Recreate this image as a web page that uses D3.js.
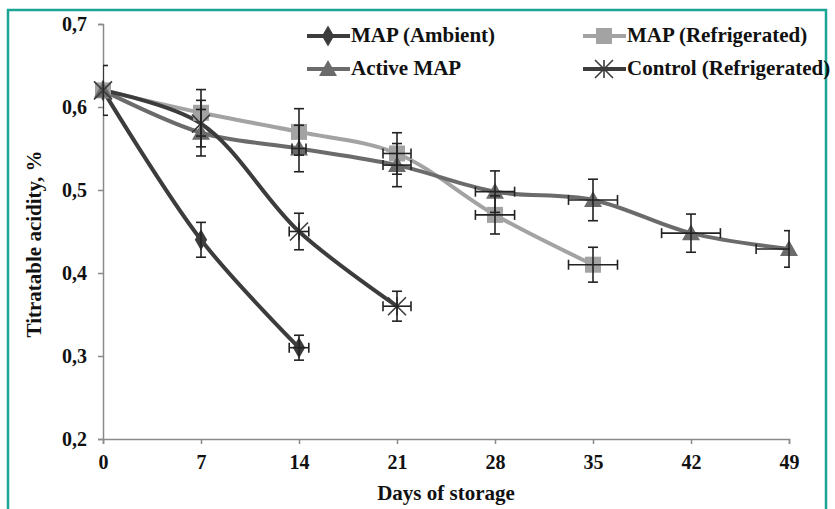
<!DOCTYPE html>
<html>
<head>
<meta charset="utf-8">
<script src="https://cdn.jsdelivr.net/npm/d3@7"></script>
<style>
  body { margin: 0; background: #fff; }
</style>
</head>
<body>
<div id="chart"></div>
<script>
// days of storage
var days = [0, 7, 14, 21, 28, 35, 42, 49];
var yTicks = [0.2, 0.3, 0.4, 0.5, 0.6, 0.7];

// titratable acidity, %
var ambient = [0.62, 0.44, 0.31];
var ambientErr = [0.03, 0.021, 0.015];
var ambientXErr = [0, 0, 0.7];

var refrigerated = [0.62, 0.593, 0.57, 0.544, 0.47, 0.41];
var refrigeratedErr = [0, 0.028, 0.028, 0.025, 0.023, 0.021];
var refrigeratedXErr = [0, 0, 0, 1.0, 1.4, 1.75];

var active = [0.62, 0.569, 0.55, 0.53, 0.498, 0.488, 0.448, 0.429];
var activeErr = [0, 0.028, 0.028, 0.026, 0.025, 0.025, 0.023, 0.022];
var activeXErr = [0, 0, 0.5, 1.0, 1.4, 1.75, 2.1, 2.35];

var control = [0.62, 0.58, 0.45, 0.36];
var controlErr = [0, 0.028, 0.022, 0.018];
var controlXErr = [0, 0, 0.7, 1.0];

var width = 835, height = 509;
var margin = {left: 103, right: 46, top: 24, bottom: 70};
var FONT = "Liberation Serif";

var svg = d3.select("#chart").append("svg")
  .attr("width", width)
  .attr("height", height)
  .attr("font-family", FONT)
  .attr("font-weight", "bold");

// teal frame
svg.append("rect")
  .attr("x", 8).attr("y", 10)
  .attr("width", 818).attr("height", 520)
  .attr("fill", "none")
  .attr("stroke", "#1aa594")
  .attr("stroke-width", 2.5);

var x = d3.scaleLinear().domain([0, 49]).range([margin.left, width - margin.right]);
var y = d3.scaleLinear().domain([0.2, 0.7]).range([height - margin.bottom, margin.top]);

var fmt = function(d) { return d3.format(".1f")(d).replace(".", ","); };

var yAxis = svg.append("g")
  .attr("transform", "translate(" + margin.left + ",0)")
  .call(d3.axisLeft(y).tickValues(yTicks).tickFormat(fmt).tickSize(5).tickPadding(11));

var xAxis = svg.append("g")
  .attr("transform", "translate(0," + y(0.2) + ")")
  .call(d3.axisBottom(x).tickValues(days).tickSize(5).tickPadding(11));

[yAxis, xAxis].forEach(function(a) {
  a.attr("font-family", FONT).attr("font-size", 20);
  a.select(".domain").attr("stroke", "#8a8a8a").attr("stroke-width", 1.5);
  a.selectAll(".tick line").attr("stroke", "#8a8a8a").attr("stroke-width", 1.5);
  a.selectAll("text").attr("font-weight", "bold").attr("fill", "#111");
});

svg.append("text")
  .attr("x", 446).attr("y", 500)
  .attr("text-anchor", "middle")
  .attr("font-size", 21)
  .attr("fill", "#111")
  .text("Days of storage");

svg.append("text")
  .attr("transform", "translate(41,244)rotate(-90)")
  .attr("text-anchor", "middle")
  .attr("font-size", 21)
  .attr("fill", "#111")
  .text("Titratable acidity, %");

var series = [
  {name: "MAP (Ambient)", values: ambient, err: ambientErr, xerr: ambientXErr, color: "#3c3c3c", marker: "diamond"},
  {name: "MAP (Refrigerated)", values: refrigerated, err: refrigeratedErr, xerr: refrigeratedXErr, color: "#a3a3a3", marker: "square"},
  {name: "Active MAP", values: active, err: activeErr, xerr: activeXErr, color: "#6b6b6b", marker: "triangle"},
  {name: "Control (Refrigerated)", values: control, err: controlErr, xerr: controlXErr, color: "#3c3c3c", marker: "star"}
];

var line = d3.line()
  .x(function(d) { return x(d.day); })
  .y(function(d) { return y(d.v); })
  .curve(d3.curveCatmullRom.alpha(0.5));

function points(s) {
  return s.values.map(function(v, i) { return {day: days[i], v: v, e: s.err[i], xe: s.xerr[i]}; });
}

svg.append("clipPath").attr("id", "plotclip")
  .append("rect").attr("x", margin.left).attr("y", 0)
  .attr("width", x(49) - margin.left + 1).attr("height", height);

function drawMarker(g, type, cx, cy, color) {
  if (type === "diamond") {
    g.append("path").attr("d", d3.symbol(d3.symbolDiamond, 130)())
      .attr("transform", "translate(" + cx + "," + cy + ")").attr("fill", color);
  } else if (type === "square") {
    g.append("rect").attr("x", cx - 8).attr("y", cy - 8).attr("width", 16).attr("height", 16).attr("fill", color);
  } else if (type === "triangle") {
    g.append("path").attr("d", "M" + cx + "," + (cy - 9) + "L" + (cx + 9) + "," + (cy + 7) + "L" + (cx - 9) + "," + (cy + 7) + "Z")
      .attr("fill", color);
  } else {
    var r = 9;
    g.append("path")
      .attr("d", "M" + (cx - r) + "," + (cy - r) + "L" + (cx + r) + "," + (cy + r) +
        "M" + (cx - r) + "," + (cy + r) + "L" + (cx + r) + "," + (cy - r) +
        "M" + cx + "," + (cy - r) + "L" + cx + "," + (cy + r))
      .attr("stroke", color).attr("stroke-width", 1.6).attr("fill", "none");
  }
}

// lines
series.forEach(function(s) {
  svg.append("path")
    .datum(points(s))
    .attr("d", line)
    .attr("fill", "none")
    .attr("stroke", s.color)
    .attr("stroke-width", 4);
});

// markers
series.forEach(function(s) {
  var g = svg.append("g");
  points(s).forEach(function(p) {
    drawMarker(g, s.marker, x(p.day), y(p.v), s.color);
  });
});

// error bars
var eb = svg.append("g").attr("stroke", "#222").attr("stroke-width", 1.6).attr("clip-path", "url(#plotclip)");
series.forEach(function(s) {
  points(s).forEach(function(p) {
    var cx = x(p.day), cy = y(p.v);
    if (p.e > 0) {
      var y1 = y(p.v + p.e), y2 = y(p.v - p.e);
      eb.append("line").attr("x1", cx).attr("x2", cx).attr("y1", y1).attr("y2", y2);
      eb.append("line").attr("x1", cx - 5).attr("x2", cx + 5).attr("y1", y1).attr("y2", y1);
      eb.append("line").attr("x1", cx - 5).attr("x2", cx + 5).attr("y1", y2).attr("y2", y2);
    }
    if (p.xe > 0) {
      var x1 = x(p.day - p.xe), x2 = x(p.day + p.xe);
      eb.append("line").attr("x1", x1).attr("x2", x2).attr("y1", cy).attr("y2", cy);
      eb.append("line").attr("x1", x1).attr("x2", x1).attr("y1", cy - 5).attr("y2", cy + 5);
      eb.append("line").attr("x1", x2).attr("x2", x2).attr("y1", cy - 5).attr("y2", cy + 5);
    }
  });
});

// legend
var legendPos = [[307, 36], [583, 36], [307, 69], [583, 69]];
series.forEach(function(s, i) {
  var lx = legendPos[i][0], ly = legendPos[i][1];
  var g = svg.append("g");
  g.append("line").attr("x1", lx).attr("x2", lx + 43).attr("y1", ly).attr("y2", ly)
    .attr("stroke", s.color).attr("stroke-width", 4);
  drawMarker(g, s.marker, lx + 21, ly, s.color);
  g.append("text").attr("x", lx + 44).attr("y", ly + 6)
    .attr("font-size", 21)
    .attr("fill", "#111")
    .text(s.name);
});
</script>
</body>
</html>
